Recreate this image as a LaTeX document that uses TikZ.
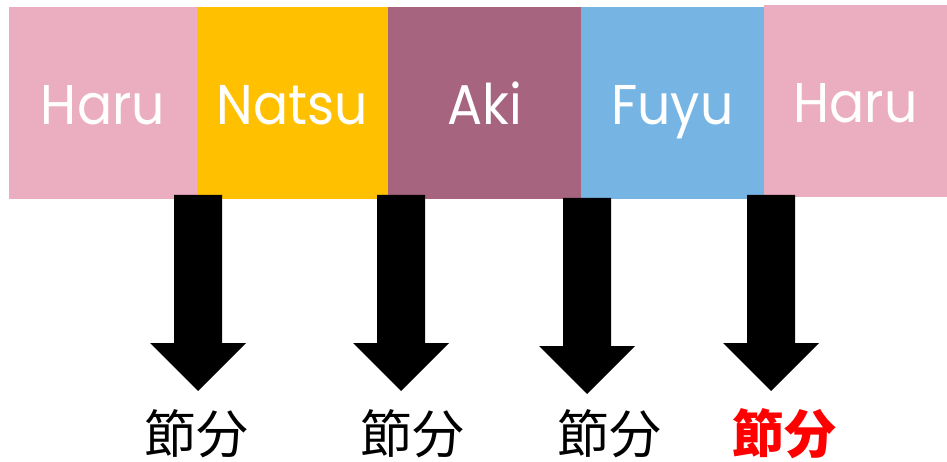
\documentclass[tikz,border=0pt]{standalone}
\usepackage{fontspec}
\setmainfont{Poppins}[FakeStretch=0.93]
\newfontfamily\jpfont{Noto Sans CJK JP}
\usepackage{tikz}
\definecolor{haru}{HTML}{EBADC0}
\definecolor{natsu}{HTML}{FFC000}
\definecolor{aki}{HTML}{A6647F}
\definecolor{fuyu}{HTML}{76B5E3}
\tikzstyle{season} = [rectangle, inner sep=0pt, minimum height=192pt, text height=44pt, text depth=0pt, text=white, font=\fontsize{56}{60}\selectfont]
\tikzstyle{setsubun} = [inner sep=0pt, font=\jpfont\fontsize{52}{56}\selectfont]
\tikzset{downarrow/.pic={
  \fill[black] (-24,0) -- (24,0) -- (24,148) -- (48,148) -- (0,196) -- (-48,148) -- (-24,148) -- cycle;
}}

\begin{document}
\begin{tikzpicture}[x=1pt, y=-1pt]
\useasboundingbox (0,0) rectangle (947,462);

\node [season, fill=haru, minimum width=188pt] at (103, 103) (haru) {Haru};
\node [season, fill=natsu, minimum width=191pt] at (292.5, 103) (natsu) {Natsu};
\node [season, fill=aki, minimum width=193pt] at (484.5, 103) (aki) {Aki};
\node [season, fill=fuyu, minimum width=183pt] at (672.5, 103) (fuyu) {Fuyu};
\node [season, fill=haru, minimum width=183pt] at (855.5, 101) (haru2) {Haru};

\coordinate (cut1) at (198, 195);
\coordinate (cut2) at (401, 195);
\coordinate (cut3) at (587, 198);
\coordinate (cut4) at (771, 195);

\pic at (cut1) {downarrow};
\pic at (cut2) {downarrow};
\pic at (cut3) {downarrow};
\pic at (cut4) {downarrow};

\node [setsubun] at (196, 434) (s1) {節分};
\node [setsubun] at (412, 434) (s2) {節分};
\node [setsubun] at (609, 434) (s3) {節分};
%\node [setsubun] at (784, 434) (s4) {節分};
\node [setsubun, text=red, font=\jpfont\bfseries\fontsize{52}{56}\selectfont] at (784, 434) (s4) {節分};
\end{tikzpicture}
\end{document}
